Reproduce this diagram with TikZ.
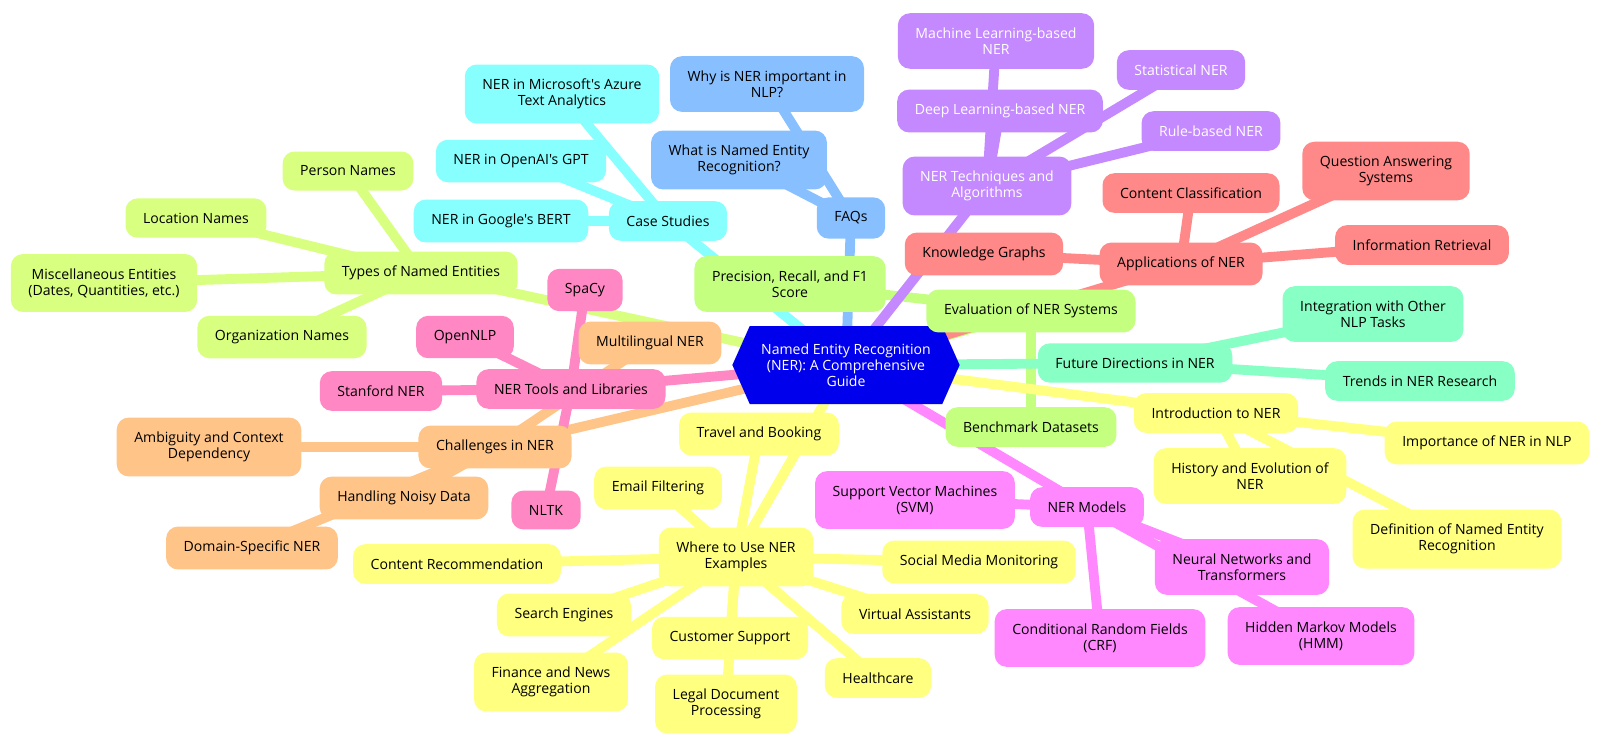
\documentclass[tikz,border=0pt]{standalone}
\usepackage{fontspec}
\setmainfont{Open Sans}[Ligatures=TeXOff]
\usetikzlibrary{positioning,shapes.symbols,backgrounds}

\definecolor{hubblue}{RGB}{0,0,236}
\definecolor{faqblue}{RGB}{136,192,255}
\definecolor{casecyan}{RGB}{136,255,255}
\definecolor{typelime}{RGB}{217,255,128}
\definecolor{evalgreen}{RGB}{196,255,128}
\definecolor{techpurple}{RGB}{196,136,255}
\definecolor{appred}{RGB}{255,136,136}
\definecolor{futmint}{RGB}{136,255,196}
\definecolor{useyellow}{RGB}{255,255,128}
\definecolor{modmagenta}{RGB}{255,136,255}
\definecolor{chalorange}{RGB}{255,196,136}
\definecolor{toolpink}{RGB}{255,136,196}

\tikzset{
	topic/.style={rounded corners=0.3cm, align=center, inner xsep=0.44cm, inner ysep=0.36cm,
		font=\fontsize{10}{11.4}\selectfont},
	link/.style={line width=7pt},
}

\begin{document}
\begin{tikzpicture}[x=0.025cm,y=-0.025cm]
			\useasboundingbox (0,0) rectangle (1600,746);
			
			%hub
			\node[signal, signal to=west and east, signal pointer angle=132, fill=hubblue, text=white,
			align=center, minimum width=5.68cm, minimum height=1.95cm, inner xsep=1pt,
			font=\fontsize{10}{11.4}\selectfont] (ner) at (846,365)
			{Named Entity Recognition\\(NER): A Comprehensive\\Guide};
			
			%FAQs
			\node[topic, fill=faqblue] (whyner) at (767,84) {Why is NER important in\\NLP?};
			\node[topic, fill=faqblue] (whatis) at (739,160) {What is Named Entity\\Recognition?};
			\node[topic, fill=faqblue] (faq) at (851,218) {FAQs};
			
			%case studies
			\node[topic, fill=casecyan] (azure) at (562,94) {NER in Microsoft's Azure\\Text Analytics};
			\node[topic, fill=casecyan] (gpt) at (521,161) {NER in OpenAI's GPT};
			\node[topic, fill=casecyan] (bert) at (501,221) {NER in Google's BERT};
			\node[topic, fill=casecyan] (cases) at (668,221) {Case Studies};
			
			%types
			\node[topic, fill=typelime] (person) at (348,171) {Person Names};
			\node[topic, fill=typelime] (location) at (196,218) {Location Names};
			\node[topic, fill=typelime] (misc) at (104,283) {Miscellaneous Entities\\(Dates, Quantities, etc.)};
			\node[topic, fill=typelime] (types) at (421,273) {Types of Named Entities};
			\node[topic, fill=typelime] (org) at (282,337) {Organization Names};
			
			%evaluation
			\node[topic, fill=evalgreen] (prec) at (790,284) {Precision, Recall, and F1\\Score};
			\node[topic, fill=evalgreen] (eval) at (1031,311) {Evaluation of NER Systems};
			\node[topic, fill=evalgreen] (bench) at (1031,427) {Benchmark Datasets};
			
			%techniques
			\node[topic, fill=techpurple, text=white] (mlner) at (996,41) {Machine Learning-based\\NER};
			\node[topic, fill=techpurple, text=white] (statner) at (1181,70) {Statistical NER};
			\node[topic, fill=techpurple, text=white] (dlner) at (1000,111) {Deep Learning-based NER};
			\node[topic, fill=techpurple, text=white] (rulener) at (1211,131) {Rule-based NER};
			\node[topic, fill=techpurple, text=white] (tech) at (987,186) {NER Techniques and\\Algorithms};
			
			%applications
			\node[topic, fill=appred] (contcls) at (1191,193) {Content Classification};
			\node[topic, fill=appred] (qa) at (1386,171) {Question Answering\\Systems};
			\node[topic, fill=appred] (kgraph) at (984,254) {Knowledge Graphs};
			\node[topic, fill=appred] (apps) at (1181,264) {Applications of NER};
			\node[topic, fill=appred] (inforet) at (1422,245) {Information Retrieval};
			
			%future
			\node[topic, fill=futmint] (integ) at (1373,314) {Integration with Other\\NLP Tasks};
			\node[topic, fill=futmint] (future) at (1135,363) {Future Directions in NER};
			\node[topic, fill=futmint] (trends) at (1420,381) {Trends in NER Research};
			
			%introduction
			\node[topic, fill=useyellow] (intro) at (1216,413) {Introduction to NER};
			\node[topic, fill=useyellow] (importance) at (1487,443) {Importance of NER in NLP};
			\node[topic, fill=useyellow] (history) at (1250,476) {History and Evolution of\\NER};
			\node[topic, fill=useyellow] (defn) at (1457,539) {Definition of Named Entity\\Recognition};
			
			%models
			\node[topic, fill=modmagenta] (svm) at (915,500) {Support Vector Machines\\(SVM)};
			\node[topic, fill=modmagenta] (models) at (1087,507) {NER Models};
			\node[topic, fill=modmagenta] (nnt) at (1242,567) {Neural Networks and\\Transformers};
			\node[topic, fill=modmagenta] (crf) at (1100,638) {Conditional Random Fields\\(CRF)};
			\node[topic, fill=modmagenta] (hmm) at (1321,636) {Hidden Markov Models\\(HMM)};
			
			%where to use
			\node[topic, fill=useyellow] (travel) at (759,434) {Travel and Booking};
			\node[topic, fill=useyellow] (email) at (658,488) {Email Filtering};
			\node[topic, fill=useyellow] (where) at (736,557) {Where to Use NER\\Examples};
			\node[topic, fill=useyellow] (contrec) at (457,564) {Content Recommendation};
			\node[topic, fill=useyellow] (social) at (979,562) {Social Media Monitoring};
			\node[topic, fill=useyellow] (search) at (564,615) {Search Engines};
			\node[topic, fill=useyellow] (virtual) at (915,614) {Virtual Assistants};
			\node[topic, fill=useyellow] (support) at (730,638) {Customer Support};
			\node[topic, fill=useyellow] (finance) at (551,682) {Finance and News\\Aggregation};
			\node[topic, fill=useyellow] (health) at (878,678) {Healthcare};
			\node[topic, fill=useyellow] (legal) at (726,704) {Legal Document\\Processing};
			
			%challenges
			\node[topic, fill=chalorange] (multi) at (650,343) {Multilingual NER};
			\node[topic, fill=chalorange] (ambig) at (209,447) {Ambiguity and Context\\Dependency};
			\node[topic, fill=chalorange] (challenges) at (495,447) {Challenges in NER};
			\node[topic, fill=chalorange] (noisy) at (404,498) {Handling Noisy Data};
			\node[topic, fill=chalorange] (domain) at (252,548) {Domain-Specific NER};
			
			%tools
			\node[topic, fill=toolpink] (spacy) at (585,290) {SpaCy};
			\node[topic, fill=toolpink] (opennlp) at (465,337) {OpenNLP};
			\node[topic, fill=toolpink] (stanford) at (381,391) {Stanford NER};
			\node[topic, fill=toolpink] (tools) at (571,389) {NER Tools and Libraries};
			\node[topic, fill=toolpink] (nltk) at (546,510) {NLTK};
			
			%links, behind the boxes
			\begin{pgfonlayer}{background}
				\foreach \a/\b/\c in {ner/faq/faqblue, faq/whyner/faqblue, faq/whatis/faqblue,
					ner/cases/casecyan, cases/azure/casecyan, cases/gpt/casecyan, cases/bert/casecyan,
					ner/types/typelime, types/person/typelime, types/location/typelime, types/misc/typelime, types/org/typelime,
					ner/eval/evalgreen, eval/prec/evalgreen, eval/bench/evalgreen,
					ner/tech/techpurple, tech/mlner/techpurple, tech/dlner/techpurple, tech/statner/techpurple, tech/rulener/techpurple,
					ner/apps/appred, apps/kgraph/appred, apps/contcls/appred, apps/qa/appred, apps/inforet/appred,
					ner/future/futmint, future/integ/futmint, future/trends/futmint,
					ner/intro/useyellow, intro/importance/useyellow, intro/history/useyellow, intro/defn/useyellow,
					ner/models/modmagenta, models/svm/modmagenta, models/crf/modmagenta, models/nnt/modmagenta, models/hmm/modmagenta,
					ner/where/useyellow, where/travel/useyellow, where/email/useyellow, where/contrec/useyellow, where/social/useyellow,
					where/search/useyellow, where/virtual/useyellow, where/support/useyellow, where/finance/useyellow,
					where/health/useyellow, where/legal/useyellow,
					ner/challenges/chalorange, challenges/multi/chalorange, challenges/ambig/chalorange,
					challenges/noisy/chalorange, challenges/domain/chalorange,
					ner/tools/toolpink, tools/spacy/toolpink, tools/opennlp/toolpink, tools/stanford/toolpink, tools/nltk/toolpink}
				\draw[link, \c] (\a.center) -- (\b.center);
			\end{pgfonlayer}
			
		\end{tikzpicture}
\end{document}
